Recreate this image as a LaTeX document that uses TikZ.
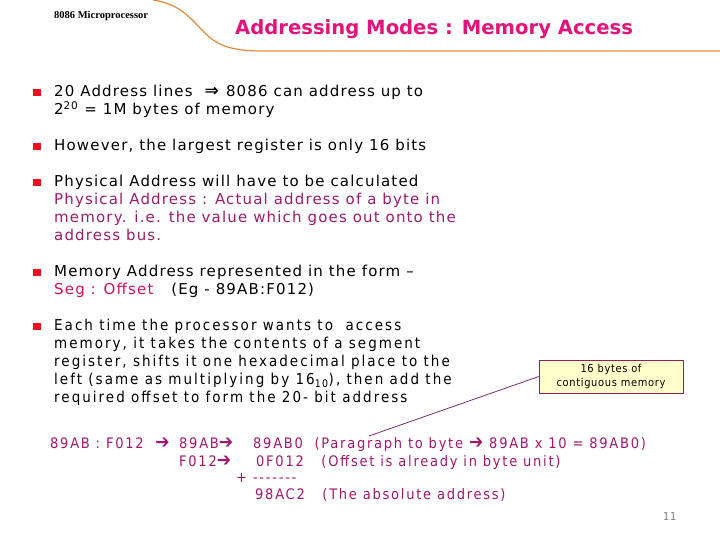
\documentclass[tikz,border=0pt]{standalone}
\usepackage{fontspec}
\setmainfont{DejaVu Sans}
\newfontfamily\verdfont[LetterSpace=7.8]{DejaVu Sans}
\newfontfamily\tahfont[LetterSpace=12]{DejaVu Sans Condensed}
\newfontfamily\elencofont[LetterSpace=13.5]{DejaVu Sans Condensed}
\newfontfamily\notafont[LetterSpace=6]{DejaVu Sans Condensed}
\newfontfamily\hdrfont{Liberation Serif}
\usepackage{xcolor}
\usetikzlibrary{shapes, arrows, positioning, calc}

\definecolor{titolorosa}{HTML}{E2137A}
\definecolor{definizione}{HTML}{9C1C6B}
\definecolor{segrosso}{HTML}{D0105A}
\definecolor{somma}{HTML}{A0186E}
\definecolor{quadrato}{HTML}{E8101A}
\definecolor{ricciolo}{HTML}{E08A3C}
\definecolor{bordonota}{HTML}{8B2252}
\definecolor{fondonota}{HTML}{FFFFCC}
\definecolor{lineanota}{HTML}{7A2A6E}

\newcommand{\freccia}{{\fontsize{19}{18}\selectfont ➔}}

\tikzset{
	testo/.style={anchor=base west, align=left, inner sep=0pt, font=\verdfont\fontsize{15}{18}\selectfont},
	calcolo/.style={anchor=base west, inner sep=0pt, font=\tahfont\fontsize{14.5}{18}\selectfont, text=somma},
	nota/.style={draw=bordonota, fill=fondonota, align=center, minimum width=144pt, minimum height=33pt, inner sep=0pt, font=\notafont\fontsize{11}{14}\selectfont}
}

\begin{document}
\begin{tikzpicture}[x=1pt, y=-1pt]
		\useasboundingbox (0,0) rectangle (720,540);

		% intestazione
		\node[anchor=base west, inner sep=0pt, font=\hdrfont\bfseries\fontsize{10.5}{10}\selectfont] (Intestazione) at (54,19) {8086 Microprocessor};
		\node[anchor=base west, inner sep=0pt, font=\bfseries\fontsize{19.6}{20}\selectfont, text=titolorosa] (Titolo) at (235,35) {Addressing Modes : Memory Access};
		\draw[ricciolo, line width=1.2pt] (153,0) .. controls (180,4) and (190,18) .. (202,30) .. controls (215,44) and (228,51) .. (262,51) -- (720,51);

		% punti elenco
		\foreach \y in {92.5,146.5,182.5,272.5,326.5}
			\fill[quadrato] (33,\y-3.8) rectangle ++(7.6,7.6);

		% (base = ultima riga)
		\node[testo] (Linee) at (54,114.5) {20 Address lines \ {\fontsize{17}{18}\selectfont\textbf{⇒}} 8086 can address up to\\2\textsuperscript{20} = 1M bytes of memory};
		\node[testo] (Registro) at (54,150.5) {However, the largest register is only 16 bits};
		\node[testo] (Fisico) at (54,240.5) {Physical Address will have to be calculated\\\textcolor{definizione}{Physical Address : Actual address of a byte in}\\\textcolor{definizione}{memory. i.e. the value which goes out onto the}\\\textcolor{definizione}{address bus.}};
		\node[testo] (Forma) at (54,294.5) {Memory Address represented in the form –\\\textcolor{segrosso}{Seg : Offset}\ \ \ (Eg - 89AB:F012)};
		\node[testo, font=\elencofont\fontsize{15}{18}\selectfont] (Processore) at (54,402.5) {Each time the processor wants to \ access\\memory, it takes the contents of a segment\\register, shifts it one hexadecimal place to the\\left (same as multiplying by 16\textsubscript{10}), then add the\\required offset to form the 20- bit address};

		% nota
		\node[nota] (Nota) at (611,376.5) {16 bytes of\\contiguous memory};
		\coordinate (Punta) at (369,436);
		\draw[lineanota, line width=0.8pt] (Punta) -- (Nota.west);

		% calcolo
		\node[calcolo] (Indirizzo) at (50,448) {89AB : F012 \ \freccia};
		\node[calcolo] (Segmento) at (179,448) {89AB\freccia};
		\node[calcolo] (Spostato) at (253,448) {89AB0 \ (Paragraph to byte \freccia\ 89AB x 10 = 89AB0)};
		\node[calcolo] (Offset) at (179,466) {F012\freccia};
		\node[calcolo] (Esteso) at (256,466) {0F012 \ \ (Offset is already in byte unit)};
		\node[calcolo] (Piu) at (236,482) {+ -------};
		\node[calcolo] (Risultato) at (255,499) {98AC2 \ \ (The absolute address)};

		\node[anchor=base west, inner sep=0pt, font=\notafont\fontsize{11}{11}\selectfont, text=gray] (Pagina) at (663,520) {11};
	\end{tikzpicture}
\end{document}
